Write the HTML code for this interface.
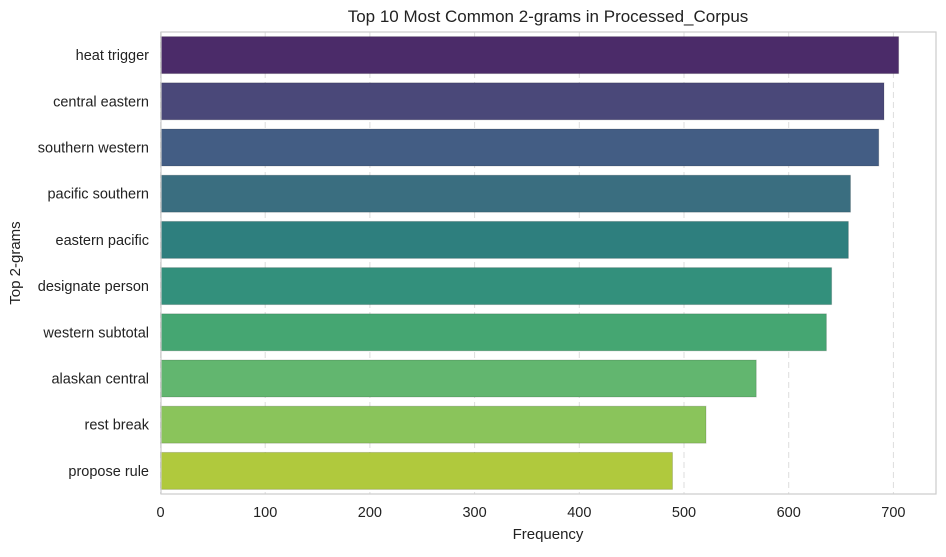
<!DOCTYPE html>
<html><head><meta charset="utf-8"><style>
body{margin:0;background:#fff;font-family:"Liberation Sans",sans-serif}
</style></head><body>
<svg id="chart" width="946" height="552" xmlns="http://www.w3.org/2000/svg" font-family="Liberation Sans, sans-serif">
<rect width="946" height="552" fill="#fff"/>
<g id="grid"></g><g id="bars"></g><g id="ticks"></g>
<rect x="161" y="32" width="775" height="462" fill="none" stroke="#cccccc" stroke-width="1.2"/>
<text x="548" y="22" font-size="17" text-anchor="middle" fill="#222">Top 10 Most Common 2-grams in Processed_Corpus</text>
<text x="548" y="539" font-size="15" text-anchor="middle" fill="#222">Frequency</text>
<text transform="translate(20,263) rotate(-90)" font-size="15" text-anchor="middle" fill="#222">Top 2-grams</text>
</svg>
<script>
const categories=["heat trigger","central eastern","southern western","pacific southern","eastern pacific","designate person","western subtotal","alaskan central","rest break","propose rule"];
const values=[705,691,686,659,657,641,636,569,521,489];
const colors=["#4b2b69","#4a4879","#435d84","#3a6e80","#2e7f7e","#33907c","#45a672","#62b66f","#8ac45b","#b0c93d"];
const xTicks=[0,100,200,300,400,500,600,700];
const L=161,R=936,T=32,B=494,X0=160.5,PX=1.047;
const x=v=>X0+v*PX;
const band=(B-T)/categories.length;
const y=i=>T+band*i;
const NS="http://www.w3.org/2000/svg";
function mk(t,a){const e=document.createElementNS(NS,t);for(const k in a)e.setAttribute(k,a[k]);return e;}
const grid=document.getElementById('grid'),bars=document.getElementById('bars'),ticks=document.getElementById('ticks');
xTicks.forEach(v=>{
 const g=mk('line',{x1:x(v),x2:x(v),y1:T,y2:B,stroke:'#dddddd','stroke-dasharray':'6,4','stroke-width':1});
 
 
 grid.appendChild(g);
 const t=mk('text',{x:x(v),y:B+23,'font-size':14.5,'text-anchor':'middle',fill:'#222'});
 t.textContent=v;
 
 
 ticks.appendChild(t);
});
categories.forEach((c,i)=>{
 const h=band*0.8;
 const r=mk('rect',{x:x(0),y:y(i)+band*0.1,width:x(values[i])-x(0),height:h,fill:colors[i],stroke:'rgba(0,0,0,0.15)','stroke-width':1});
 
 
 bars.appendChild(r);
 const t=mk('text',{x:L-12,y:y(i)+band/2+5,'font-size':14.5,'text-anchor':'end',fill:'#222'});
 t.textContent=c;
 
 
 ticks.appendChild(t);
});
</script>
</body></html>
